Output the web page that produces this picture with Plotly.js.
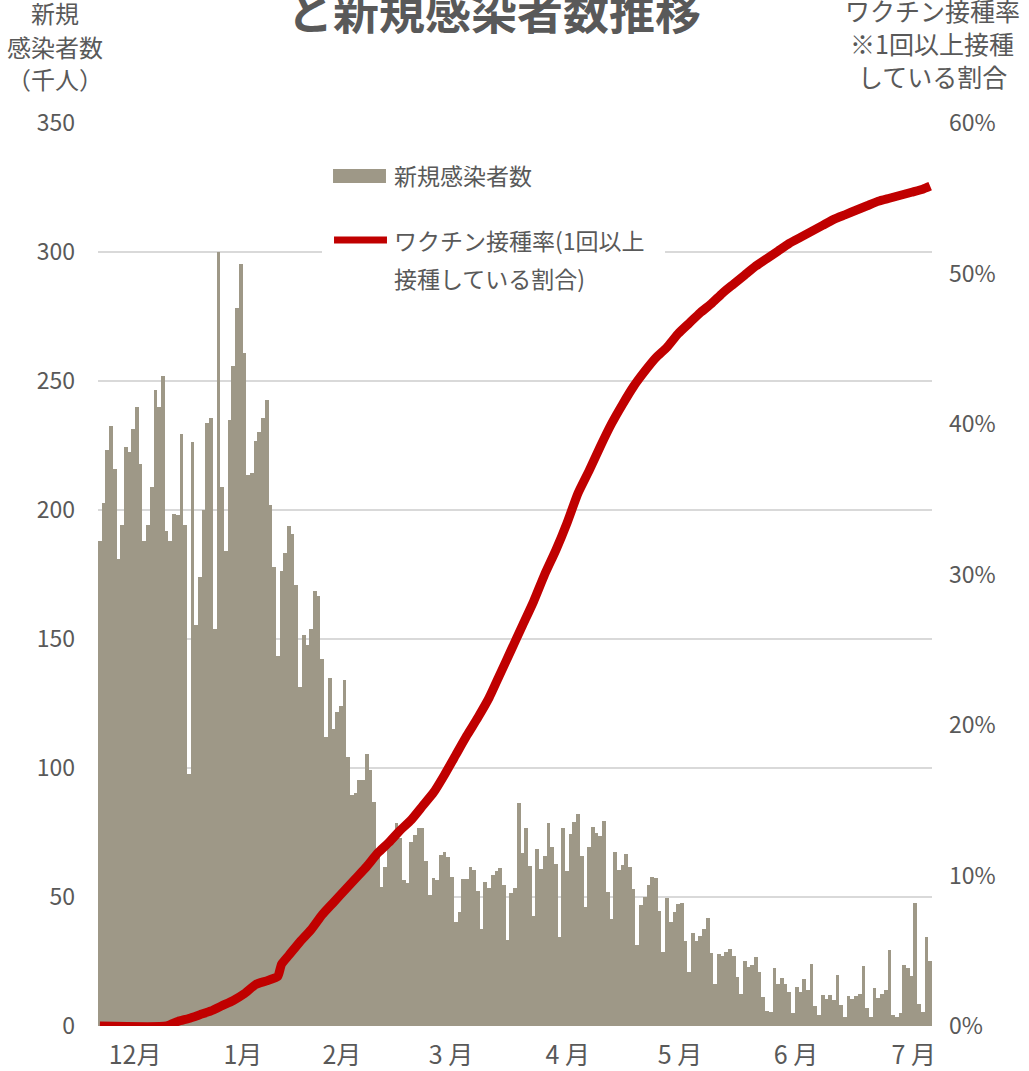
<!DOCTYPE html>
<html>
<head>
<meta charset="utf-8">
<script src="https://cdn.plot.ly/plotly-3.0.1.min.js"></script>
<style>html,body{margin:0;padding:0;background:#fff;}#chart{width:1029px;height:1071px;}</style>
</head>
<body>
<div id="chart"></div>
<script>
// ---- data ----
const startDate = '2020-12-01';
// 新規感染者数（千人）, daily from 2020-12-01
const newCases = [
  188, 202.6, 223.4, 232.5, 215.7, 181, 194, 224.5, 222.6, 231.3, 240, 217.7, 188, 194.3, 209, 246.5, 240, 252, 192, 188,
  198.5, 198, 229.6, 194, 97.8, 226.5, 155.5, 174, 200, 233.7, 235.6, 153.7, 300, 209, 184, 235, 255.8, 278.4, 295.2,
  261, 213.4, 214.4, 226.9, 230.3, 235.6, 242.7, 201.8, 178, 143.5, 176.2, 183.2, 193.8, 190.6, 170.8, 131.3, 151.4, 147.6,
  153.7, 168.6, 166.6, 142.2, 112.2, 134.8, 115, 121.6, 124, 134, 104.3, 89.6, 90.4, 95.3, 95.3, 105.4, 99.4,
  87, 66, 54, 61.7, 70, 72, 78.6, 73, 56.6, 55.6, 71.5, 74, 76.6, 76.6, 64, 50.8, 57.5, 56.6, 66.4, 67.4, 65.6, 57.6,
  40.4, 44.2, 57, 57, 61.7, 60.5, 52.4, 37.7, 56, 53.4, 58.5, 60.2, 61.1, 54.7, 33.2, 51.4, 53.4, 86.3,
  67.2, 76.6, 62.1, 42.6, 68.6, 60.8, 66, 78.5, 69.3, 62.6, 34.6, 76.9, 60.2, 74.4, 79.2, 82.1, 66, 46, 69.3, 77.3,
  74.7, 73.8, 79.3, 51.8, 41.6, 67.4, 60.5, 62.3, 66.7, 61.7, 53, 31.5, 46.9, 50.1, 54.5, 57.6, 57.2, 44.7,
  28.7, 49.7, 40.2, 44, 47.3, 47.6, 33, 20.8, 36.2, 33, 35, 37.5, 41.7, 28.2, 16.3, 27.9, 27.1, 28.5, 29.7, 27.1,
  19.1, 12.3, 25.2, 22.7, 23.6, 26.6, 21, 11.4, 5.9, 5.3, 22.4, 16.3, 18.5, 16.1, 13.2, 4.9, 15, 13.3,
  18.1, 14, 24.1, 7.8, 4.1, 12.2, 10.6, 11.9, 10, 19.9, 8, 3.4, 11.8, 10.3, 11.8, 12.4, 23.3, 7, 3.4, 14.6,
  11, 12.4, 14, 29.3, 4.4, 3.4, 4.9, 23.5, 22.6, 19.5, 47.5, 8.5, 5.6, 34.5, 25.3
];
// ワクチン接種率（1回以上接種している割合, %）
const vaxDates = [
  '2020-12-01','2020-12-19','2020-12-22','2020-12-25','2020-12-28','2020-12-31',
  '2021-01-03','2021-01-06','2021-01-09','2021-01-12','2021-01-15','2021-01-18','2021-01-19','2021-01-21','2021-01-24','2021-01-27','2021-01-30',
  '2021-02-02','2021-02-05','2021-02-08','2021-02-11','2021-02-14','2021-02-17','2021-02-20','2021-02-23','2021-02-26',
  '2021-03-01','2021-03-04','2021-03-07','2021-03-10','2021-03-13','2021-03-16','2021-03-19','2021-03-22','2021-03-25','2021-03-28','2021-03-31',
  '2021-04-03','2021-04-06','2021-04-09','2021-04-12','2021-04-15','2021-04-18','2021-04-21','2021-04-24','2021-04-27','2021-04-30',
  '2021-05-03','2021-05-06','2021-05-09','2021-05-12','2021-05-15','2021-05-18','2021-05-21','2021-05-24','2021-05-27','2021-05-30',
  '2021-06-02','2021-06-05','2021-06-08','2021-06-11','2021-06-14','2021-06-17','2021-06-20','2021-06-23','2021-06-26','2021-06-29',
  '2021-07-02','2021-07-05','2021-07-08','2021-07-11','2021-07-13'
];
const vaxRate = [
  0, 0, 0.3, 0.5, 0.75, 1.0,
  1.35, 1.7, 2.15, 2.75, 3.0, 3.3, 4.1, 4.7, 5.6, 6.4, 7.4,
  8.2, 9.0, 9.8, 10.6, 11.5, 12.2, 13.0, 13.7, 14.6,
  15.5, 16.7, 18.0, 19.3, 20.5, 21.8, 23.4, 25.0, 26.6, 28.2, 30.0,
  31.6, 33.4, 35.4, 36.9, 38.5, 40.0, 41.3, 42.5, 43.5, 44.4,
  45.1, 46.0, 46.7, 47.4, 48.0, 48.7, 49.3, 49.9, 50.5, 51.0,
  51.5, 52.0, 52.4, 52.8, 53.2, 53.6, 53.9, 54.2, 54.5, 54.8,
  55.0, 55.2, 55.4, 55.6, 55.8
];
const monthTickText = ['12月', '1月', '2月', '3 月', '4 月', '5 月', '6 月', '7 月'];
const monthTickVals = ['2020-12-10 12:00', '2021-01-08 14:00', '2021-02-04 07:00', '2021-03-05 17:00',
                       '2021-04-06 05:00', '2021-05-06 12:00', '2021-06-06 19:00', '2021-07-08 14:00'];
const casesName = '新規感染者数';
const vaxName = 'ワクチン接種率(1回以上接種している割合)';
const leftTitleLines = ['新規', '感染者数', '（千人）'];
const rightTitleLines = ['ワクチン接種率', '※1回以上接種', 'している割合'];
const chartTitle = 'と新規感染者数推移';

// daily dates for the bars
const caseDates = newCases.map((_, i) => {
  const d = new Date(startDate + 'T00:00:00Z');
  d.setUTCDate(d.getUTCDate() + i);
  return d.toISOString().slice(0, 10);
});

// ---- chart ----
const FONT = "'Noto Sans CJK JP', 'Noto Sans', sans-serif";
const GREY = '#595959';
const BAR = '#9E9887';
const RED = '#C00000';
const PH = 903; // plot height px
const py = (pix) => (1026 - pix) / PH; // pixel row -> paper y

const traces = [
  {type: 'bar', name: casesName, x: caseDates, y: newCases,
   marker: {color: BAR, line: {width: 0}}, hoverinfo: 'x+y'},
  {type: 'scatter', mode: 'lines', name: vaxName, x: vaxDates, y: vaxRate, yaxis: 'y2',
   line: {color: RED, width: 9, shape: 'spline', smoothing: 0.5}}
];

const annotations = [
  {text: '<b>' + chartTitle + '</b>', xref: 'paper', yref: 'paper', x: 0.475, y: py(9),
   xanchor: 'center', yanchor: 'middle', showarrow: false, font: {size: 46, color: GREY, family: FONT}}
];
const leftRows = [13, 46, 79];
leftTitleLines.forEach((t, i) => annotations.push({
  text: t, xref: 'paper', yref: 'paper', x: -0.0516, y: py(leftRows[i]),
  xanchor: 'center', yanchor: 'middle', showarrow: false, font: {size: 24, color: GREY, family: FONT}}));
const rightRows = [10, 43, 76];
rightTitleLines.forEach((t, i) => annotations.push({
  text: t, xref: 'paper', yref: 'paper', x: 1.0, y: py(rightRows[i]),
  xanchor: 'center', yanchor: 'middle', showarrow: false, font: {size: 25, color: GREY, family: FONT}}));
annotations.push(
  {text: casesName, xref: 'paper', yref: 'paper', x: 0.3525, y: py(175),
   xanchor: 'left', yanchor: 'middle', showarrow: false, font: {size: 23, color: GREY, family: FONT}},
  {text: 'ワクチン接種率(1回以上', xref: 'paper', yref: 'paper', x: 0.3525, y: py(240),
   xanchor: 'left', yanchor: 'middle', showarrow: false, font: {size: 23, color: GREY, family: FONT}},
  {text: '接種している割合)', xref: 'paper', yref: 'paper', x: 0.3525, y: py(278),
   xanchor: 'left', yanchor: 'middle', showarrow: false, font: {size: 23, color: GREY, family: FONT}}
);

const layout = {
  width: 1029, height: 1071,
  margin: {l: 98, r: 97, t: 123, b: 45},
  paper_bgcolor: '#ffffff', plot_bgcolor: '#ffffff',
  font: {family: FONT, color: GREY, size: 22},
  showlegend: false,
  bargap: 0,
  xaxis: {
    type: 'date', range: ['2020-11-30 12:00', '2021-07-13 12:00'],
    tickmode: 'array', tickvals: monthTickVals, ticktext: monthTickText,
    tickfont: {size: 25, color: GREY, family: FONT}, ticklabelstandoff: 12,
    showgrid: false, zeroline: false, showline: false, ticks: '', fixedrange: true
  },
  yaxis: {
    range: [0, 350], dtick: 50, tick0: 0,
    tickfont: {size: 23, color: GREY, family: FONT},
    gridcolor: '#D9D9D9', gridwidth: 1.5, zeroline: false, showline: false,
    ticks: '', ticklabelstandoff: 22, fixedrange: true
  },
  yaxis2: {
    overlaying: 'y', side: 'right', range: [0, 60], dtick: 10, tick0: 0, ticksuffix: '%',
    tickfont: {size: 23, color: GREY, family: FONT},
    showgrid: false, zeroline: false, showline: false, ticks: '', ticklabelstandoff: 16, fixedrange: true
  },
  shapes: [
    // legend background
    {type: 'rect', xref: 'paper', yref: 'paper', x0: 0.2686, x1: 0.6799, y0: py(300), y1: py(150),
     fillcolor: '#ffffff', line: {width: 0}, layer: 'above'},
    // legend symbol: bars
    {type: 'rect', xref: 'paper', yref: 'paper', x0: 0.2818, x1: 0.3453, y0: py(183), y1: py(169),
     fillcolor: BAR, line: {width: 0}, layer: 'above'},
    // legend symbol: line
    {type: 'line', xref: 'paper', yref: 'paper', x0: 0.2830, x1: 0.3465, y0: py(240), y1: py(240),
     line: {color: RED, width: 7}, layer: 'above'}
  ],
  annotations: annotations
};

Plotly.newPlot('chart', traces, layout, {displayModeBar: false, staticPlot: true});
</script>
</body>
</html>
